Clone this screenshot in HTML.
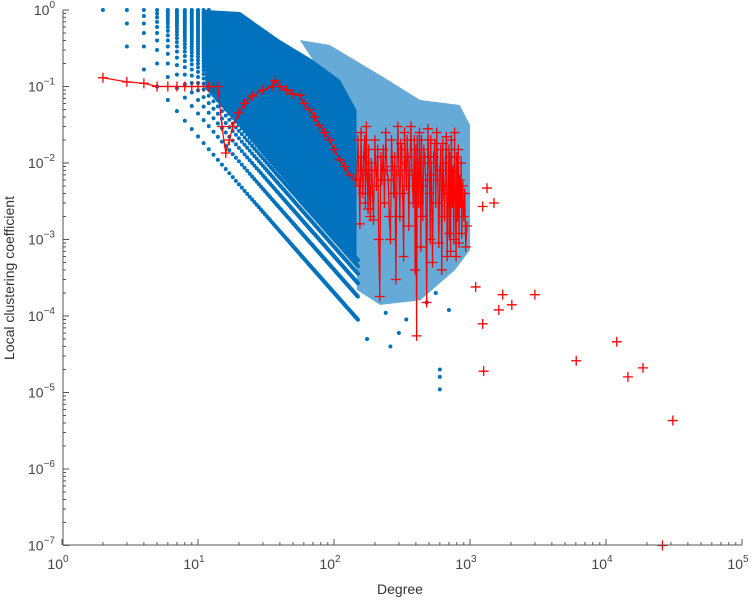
<!DOCTYPE html>
<html><head><meta charset="utf-8"><style>
body{margin:0;background:#fff}
svg{display:block;font-family:"Liberation Sans",sans-serif}
</style></head><body>
<svg id="chart" width="753" height="600" viewBox="0 0 753 600">
<g id="plot"></g>
<g id="axes"></g>
<text x="400" y="594" text-anchor="middle" font-size="14" fill="#333">Degree</text>
<text transform="translate(14,278) rotate(-90)" text-anchor="middle" font-size="14" fill="#333">Local clustering coefficient</text>
</svg>
<script>
// ---- data ----
const xDecades=[0,1,2,3,4,5];
const yDecades=[0,-1,-2,-3,-4,-5,-6,-7];
const denseK=[11.3,20.4,40,70,111,147,147,100,50,20,11.3];
const denseC=[1,0.94,0.405,0.222,0.122,0.049,4.6e-4,0.0012,0.005,0.03,0.094];
const sparseK=[56,93,218,430,840,1000,1000,776,430,218,147,147,111,70];
const sparseC=[0.405,0.349,0.141,0.0666,0.0572,0.0314,7.3e-4,4.0e-4,1.6e-4,1.4e-4,2.2e-4,0.049,0.122,0.222];
const diagMult=[1,2,3,4,5,6];
const blueOutK=[600,600,600,175,260,300,340,240,700,560,480];
const blueOutC=[2e-5,1.6e-5,1.1e-5,5e-5,4e-5,6e-5,9e-5,1.1e-4,1.2e-4,2e-4,1.5e-4];
const redK=[2,3,4,5,6,7,8,9,10,11,12,13,14,15,16,17,18,20,22,25,30,35,37,40,45,50,56,60,66,72,78,85,93,100,110,120,130,147,
150,153,155,158,160,163,165,168,170,173,175,178,180,183,185,188,190,195,200,205,210,213,217,221,225,230,235,240,245,250,255,260,265,270,275,280,285,290,295,300,305,310,315,320,325,330,335,340,345,350,355,360,368,375,382,390,395,400,405,410,415,420,425,430,435,440,445,450,458,465,472,480,490,500,505,510,515,520,530,540,550,560,570,580,590,600,610,620,630,640,650,660,670,680,690,700,705,710,720,730,740,750,760,770,780,790,800,810,820,830,840,850,860,870,885,900,915,930,950];
const redC=[0.13,0.115,0.11,0.1,0.1,0.1,0.1,0.1,0.1,0.1,0.1,0.1,0.1,0.03,0.0135,0.02,0.03,0.045,0.06,0.075,0.09,0.1,0.12,0.1,0.09,0.08,0.077,0.06,0.05,0.04,0.031,0.025,0.02,0.015,0.011,0.009,0.007,0.006,
0.02,0.005,0.0016,0.025,0.008,0.004,0.012,0.02,0.003,0.03,0.007,0.0025,0.015,0.004,0.002,0.01,0.008,0.0018,0.02,0.005,0.015,0.001,0.00018,0.012,0.006,0.015,0.003,0.025,0.008,0.006,0.002,0.001,0.02,0.009,0.004,0.012,0.0003,0.007,0.03,0.008,0.002,0.018,0.015,0.004,0.0006,0.025,0.01,0.005,0.02,0.012,0.0015,0.008,0.03,0.007,0.003,0.02,0.0004,0.015,5.5e-5,0.02,0.006,0.003,0.025,0.01,0.0008,0.02,0.005,0.002,0.015,0.012,0.006,0.00015,0.028,0.01,0.004,0.001,0.02,0.007,0.0005,0.012,0.018,0.003,0.025,0.006,0.0009,0.008,0.015,0.0004,0.018,0.005,0.002,0.01,0.022,0.0006,0.004,0.015,0.0012,0.012,0.0007,0.02,0.003,0.008,0.001,0.025,0.004,0.0006,0.012,0.002,0.015,0.0009,0.006,0.003,0.01,0.0012,0.005,0.002,0.004,0.0008,0.0015,0.0025,0.001];
const redOutK=[1334,1240,1500,1100,1740,2030,1630,3000,1240,1260,6040,12000,14500,18700,31000,26000];
const redOutC=[0.0047,0.0027,0.003,2.4e-4,1.9e-4,1.4e-4,1.2e-4,1.9e-4,7.9e-5,1.9e-5,2.6e-5,4.6e-5,1.6e-5,2.1e-5,4.3e-6,1e-7];
// ---- scales ----
const X0=62,XD=136,Y0=10,YD=76.5;
const sx=k=>X0+XD*Math.log10(k);
const sy=c=>Y0-YD*Math.log10(c);
const NS='http://www.w3.org/2000/svg';
const plot=document.getElementById('plot'),axes=document.getElementById('axes');
function mk(tag,attrs,parent){const e=document.createElementNS(NS,tag);for(const a in attrs)e.setAttribute(a,attrs[a]);parent.appendChild(e);return e;}
const BLUE='#0072bd';
let p=mk('polygon',{points:denseK.map((k,i)=>sx(k)+','+sy(denseC[i])).join(' '),fill:BLUE},plot);


p=mk('polygon',{points:sparseK.map((k,i)=>sx(k)+','+sy(sparseC[i])).join(' '),fill:BLUE,'fill-opacity':0.6},plot);


let d='';
const r=2;
function dot(x,y){d+=`M${x-r},${y}a${r},${r} 0 1,0 ${2*r},0a${r},${r} 0 1,0 ${-2*r},0`;}
for(let k=2;k<=30;k++){const n=k*(k-1)/2;for(let j=1;j<=n;j++){const c=j/n;if(k>12&&j>6&&c>0.5)continue;dot(sx(k),sy(c));}}
for(let k=31;k<=150;k++){const n=k*(k-1)/2;diagMult.forEach(m=>dot(sx(k),sy(m/n)));}
blueOutK.forEach((k,i)=>dot(sx(k),sy(blueOutC[i])));
p=mk('path',{d:d,fill:BLUE},plot);


p=mk('polyline',{points:redK.map((k,i)=>sx(k)+','+sy(redC[i])).join(' '),fill:'none',stroke:'#ff0000','stroke-width':1.2},plot);


let pd='';
function plus(x,y){pd+=`M${x-5},${y}h10M${x},${y-5}v10`;}
redK.forEach((k,i)=>plus(sx(k),sy(redC[i])));
redOutK.forEach((k,i)=>plus(sx(k),sy(redOutC[i])));
p=mk('path',{d:pd,stroke:'#ff0000','stroke-width':1.3,fill:'none'},plot);


const XA=545,YA=63;
let ad=`M${YA},${XA}H${sx(1e5)}M${YA},${XA}V${sy(1)}`;
xDecades.forEach(e=>{ad+=`M${sx(10**e)},${XA}v-6`;if(e<5)for(let m=2;m<10;m++)ad+=`M${sx(m*10**e)},${XA}v-3`;});
yDecades.forEach(e=>{ad+=`M${YA},${sy(10**e)}h6`;if(e>-7)for(let m=2;m<10;m++)ad+=`M${YA},${sy(m*10**(e-1))}h3`;});
p=mk('path',{d:ad,stroke:'#555','stroke-width':1,fill:'none'},axes);


xDecades.forEach(e=>{const t=mk('text',{x:sx(10**e)-4,y:XA+24,'text-anchor':'middle','font-size':14,fill:'#444'},axes);


t.innerHTML=`10<tspan font-size="10" dy="-7">${e}</tspan>`;});
yDecades.forEach(e=>{const t=mk('text',{x:YA-8,y:sy(10**e)+5,'text-anchor':'end','font-size':14,fill:'#444'},axes);


t.innerHTML=`10<tspan font-size="10" dy="-7">${e===0?'0':'\u2212'+(-e)}</tspan>`;});
</script>
</body></html>
